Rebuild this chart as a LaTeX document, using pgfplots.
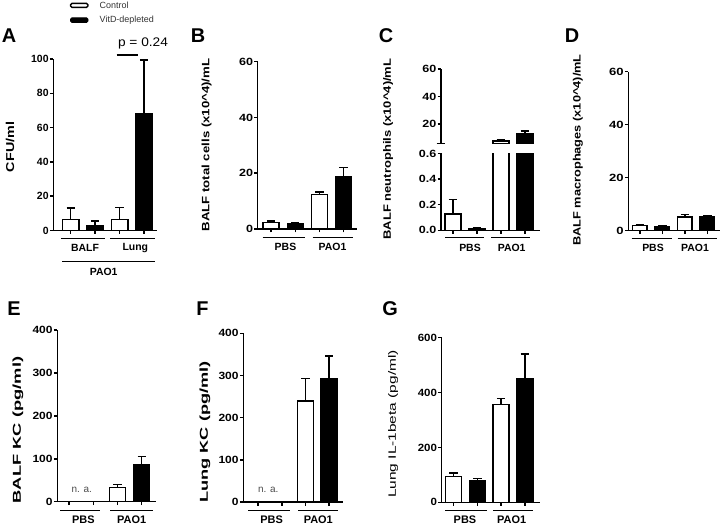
\documentclass[border=0pt]{standalone}
\usepackage{fontspec}
\setmainfont{Liberation Sans}
\usepackage{pgfplots}
\pgfplotsset{compat=1.18}
\newcommand{\fs}[1]{\fontsize{#1}{#1}\selectfont}
\pgfplotsset{
  gp/.style={scale only axis, anchor=south west,
    axis x line*=bottom, axis y line*=left,
    axis line style={line width=1.5pt, -},
    tick style={black, line width=1.5pt},
    major tick length=3.5bp, tick align=outside,
    xtick={1,2,3,4}, xticklabels={}, ymin=0,
    /pgf/number format/assume math mode=true,
    yticklabel style={font=\bfseries\fs{10.5}, inner sep=1bp},
    yticklabel={\pgfmathprintnumber{\tick}}},
  tls/.style={yticklabel={\scalebox{#1}[1]{\pgfmathprintnumber{\tick}}}},
  bars/.style={ybar, bar shift=0pt, draw=black, line width=1.5pt,
    /pgfplots/error bars/y dir=plus, /pgfplots/error bars/y explicit,
    /pgfplots/error bars/error bar style={line width=1.5pt, black, solid},
    /pgfplots/error bars/error mark options={rotate=90, line width=1.5pt, black, mark size=4.2bp}}
}
\begin{document}
\begin{tikzpicture}
\path[use as bounding box] (0,0) rectangle (720bp,529bp);
% ---------- A ----------
\begin{axis}[gp, at={(53.3bp,298.5bp)}, width=103.7bp, height=171.5bp,
  xmin=0.288, xmax=4.53, ymax=100, ytick={0,20,...,100}]
\addplot[bar width=16.5bp, fill=white, bars] coordinates {(1,6.3) +- (0,6.9) (3,6.3) +- (0,7.2)};
\addplot[bar width=16.5bp, fill=black, bars] coordinates {(2,2.9) +- (0,2.6) (4,68.2) +- (0,31.2)};
\end{axis}
% ---------- B ----------
\begin{axis}[gp, at={(257.7bp,300bp)}, width=99bp, height=167.3bp,
  xmin=0.446, xmax=4.54, ymax=60, ytick={0,20,40,60}, tls=1.2]
\addplot[bar width=16bp, fill=white, bars] coordinates {(1,2.4) +- (0,0.5) (3,12.4) +- (0,0.9)};
\addplot[bar width=16bp, fill=black, bars] coordinates {(2,1.8) +- (0,0.3) (4,18.6) +- (0,3.4)};
\end{axis}
% ---------- C (lower) ----------
\begin{axis}[gp, at={(441bp,298.7bp)}, width=99bp, height=76.8bp,
  xmin=0.508, xmax=4.63, ymax=0.6, ytick={0,0.2,0.4,0.6}, clip=true, tls=1.2,
  /pgf/number format/fixed, /pgf/number format/fixed zerofill, /pgf/number format/precision=1]
\addplot[bar width=16bp, fill=white, bars] coordinates {(1,0.128) +- (0,0.111) (3,7.6) +- (0,1.3)};
\addplot[bar width=16bp, fill=black, bars] coordinates {(2,0.016) +- (0,0.005) (4,12.7) +- (0,2.4)};
\end{axis}
% ---------- C (upper) ----------
\begin{axis}[gp, at={(441bp,385.7bp)}, width=99bp, height=74.3bp,
  xmin=0.508, xmax=4.63, ymin=6, ymax=60, ytick={20,40,60}, axis x line=none, clip=true, tls=1.2]
\addplot[bar width=16bp, fill=white, bars] coordinates {(3,7.6) +- (0,1.3)};
\addplot[bar width=16bp, fill=black, bars] coordinates {(4,12.7) +- (0,2.4)};
\end{axis}
% ---------- D ----------
\begin{axis}[gp, at={(628.3bp,298.3bp)}, width=91.7bp, height=159bp,
  xmin=0.484, xmax=4.565, ymax=60, ytick={0,20,40,60}, tls=1.25]
\addplot[bar width=14.5bp, fill=white, bars] coordinates {(1,1.9) +- (0,0.4) (3,5.1) +- (0,1.1)};
\addplot[bar width=14.5bp, fill=black, bars] coordinates {(2,1.5) +- (0,0.3) (4,5.2) +- (0,0.5)};
\end{axis}
% ---------- E ----------
\begin{axis}[gp, at={(57.3bp,27.3bp)}, width=98.7bp, height=171.7bp,
  xmin=0.512, xmax=4.59, ymax=400, ytick={0,100,...,400}, tls=1.15]
\addplot[bar width=16bp, fill=white, bars] coordinates {(3,33.4) +- (0,6.2)};
\addplot[bar width=16bp, fill=black, bars] coordinates {(4,85.4) +- (0,19.6)};
\end{axis}
% ---------- F ----------
\begin{axis}[gp, at={(243.3bp,27bp)}, width=100bp, height=168.7bp,
  xmin=0.376, xmax=4.595, ymax=400, ytick={0,100,...,400}, tls=1.15]
\addplot[bar width=16bp, fill=white, bars] coordinates {(3,240) +- (0,53)};
\addplot[bar width=16bp, fill=black, bars] coordinates {(4,292.5) +- (0,53.5)};
\end{axis}
% ---------- G ----------
\begin{axis}[gp, at={(441.7bp,26.7bp)}, width=98.3bp, height=164.6bp,
  xmin=0.5, xmax=4.635, ymax=600, ytick={0,200,...,600}, tls=1.1]
\addplot[bar width=16bp, fill=white, bars] coordinates {(1,93.5) +- (0,13.5) (3,357) +- (0,22)};
\addplot[bar width=16bp, fill=black, bars] coordinates {(2,77.7) +- (0,8.3) (4,452) +- (0,88)};
\end{axis}

% ---------- annotations ----------
% C break mark
\draw[line width=1.5pt] (436.7bp,385.7bp) -- (445bp,385.7bp);
% legend
\draw[line width=1.3pt, rounded corners=1.5bp, fill=white] (70.5bp,521.6bp) rectangle (88bp,525.6bp);
\draw[line width=1pt, rounded corners=1.5bp, fill=black] (70.5bp,506.5bp) rectangle (88bp,511.2bp);
\node[anchor=west, font=\fs{9}, text=black!80, inner sep=0pt] at (99.5bp,523.8bp) {Control};
\node[anchor=west, font=\fs{9}, text=black!80, inner sep=0pt] at (99.5bp,508.8bp) {VitD-depleted};
% panel letters
\node[font=\bfseries\fs{20}] at (9bp,493.2bp) {A};
\node[font=\bfseries\fs{20}] at (198bp,493.2bp) {B};
\node[font=\bfseries\fs{20}] at (386bp,493.2bp) {C};
\node[font=\bfseries\fs{20}] at (572bp,493.2bp) {D};
\node[font=\bfseries\fs{20}] at (14bp,220bp) {E};
\node[font=\bfseries\fs{20}] at (202.5bp,220bp) {F};
\node[font=\bfseries\fs{20}] at (390bp,220bp) {G};
% p value
\draw[line width=1.5pt] (116.7bp,474bp) -- (138.3bp,474bp);
\node[font=\fs{12.5}] at (143bp,486bp) {\scalebox{1.1}[1]{p = 0.24}};
% y labels
\node[rotate=90, font=\bfseries\fs{11.5}] at (10bp,382bp) {\scalebox{1.25}[1]{CFU/ml}};
\node[rotate=90, font=\bfseries\fs{10.7}] at (206.7bp,384bp) {\scalebox{1.24}[1]{BALF total cells (x10\textasciicircum 4)/mL}};
\node[rotate=90, font=\bfseries\fs{10.7}] at (388bp,380bp) {\scalebox{1.22}[1]{BALF neutrophils (x10\textasciicircum 4)/mL}};
\node[rotate=90, font=\bfseries\fs{10.7}] at (578bp,379bp) {\scalebox{1.2}[1]{BALF macrophages (x10\textasciicircum 4)/mL}};
\node[rotate=90, font=\bfseries\fs{11.5}] at (18bp,99bp) {\scalebox{1.6}[1]{BALF KC (pg/ml)}};
\node[rotate=90, font=\bfseries\fs{11.5}] at (205bp,97bp) {\scalebox{1.59}[1]{Lung KC (pg/ml)}};
\node[rotate=90, font=\fs{10.7}] at (393bp,105bp) {\scalebox{1.45}[1]{Lung IL-1beta (pg/ml)}};
% group lines and labels
\begin{scope}[line width=1pt, every node/.style={font=\bfseries\fs{10.5}}]
% A
\draw (61bp,290.5bp) -- (105bp,290.5bp); \node at (85bp,281bp) {BALF};
\draw (110bp,290.5bp) -- (155bp,290.5bp); \node at (135.3bp,281bp) {Lung};
\draw (62bp,267bp) -- (155bp,267bp); \node at (103.7bp,257bp) {PAO1};
% B
\draw (262.7bp,291.5bp) -- (305bp,291.5bp); \node at (285.5bp,282bp) {PBS};
\draw (312.7bp,291.5bp) -- (353.3bp,291.5bp); \node at (332.5bp,282bp) {PAO1};
% C
\draw (445bp,291bp) -- (484bp,291bp); \node at (470bp,281.5bp) {PBS};
\draw (491bp,291bp) -- (530bp,291bp); \node at (511.7bp,281.5bp) {PAO1};
% D
\draw (631.7bp,290.5bp) -- (671.7bp,290.5bp); \node at (653bp,281bp) {PBS};
\draw (677.7bp,290.5bp) -- (716.7bp,290.5bp); \node at (695bp,281bp) {PAO1};
\end{scope}
\begin{scope}[line width=1pt, every node/.style={font=\bfseries\fs{11}}]
% E
\draw (60bp,18.5bp) -- (100bp,18.5bp); \node at (83.3bp,9bp) {PBS};
\draw (110bp,18.5bp) -- (152.7bp,18.5bp); \node at (131.7bp,9bp) {PAO1};
% F
\draw (248.3bp,18.5bp) -- (290bp,18.5bp); \node at (271.7bp,9bp) {PBS};
\draw (298.3bp,18.5bp) -- (338.3bp,18.5bp); \node at (318.3bp,9bp) {PAO1};
% G
\draw (445bp,18.5bp) -- (486.7bp,18.5bp); \node at (465bp,9bp) {PBS};
\draw (493.3bp,18.5bp) -- (533.3bp,18.5bp); \node at (511.7bp,9bp) {PAO1};
\end{scope}
% n. a.
\node[font=\fs{10}, text=black!70] at (81.7bp,39bp) {n. a.};
\node[font=\fs{10}, text=black!70] at (268.3bp,39bp) {n. a.};
\end{tikzpicture}
\end{document}
